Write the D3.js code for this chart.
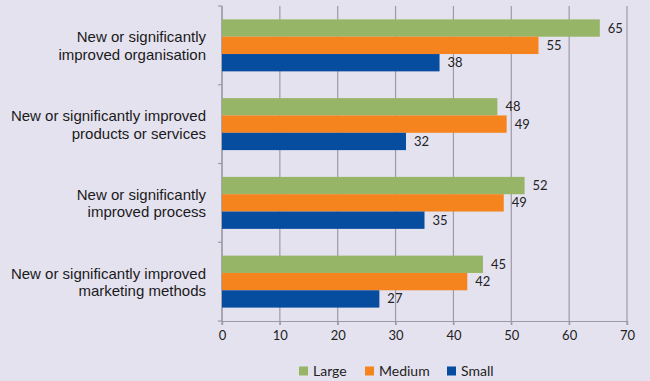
<!DOCTYPE html>
<html>
<head>
<meta charset="utf-8">
<script src="https://cdn.jsdelivr.net/npm/d3@7"></script>
<style>
  body { margin: 0; background: #e5e2f0; }
</style>
</head>
<body>
<div id="myChart"></div>
<script>
// data
const categories = [
  ["New or significantly", "improved organisation"],
  ["New or significantly improved", "products or services"],
  ["New or significantly", "improved process"],
  ["New or significantly improved", "marketing methods"]
];
const seriesNames = ["Large", "Medium", "Small"];
const large  = [65.3, 47.6, 52.3, 45.1];
const medium = [54.7, 49.2, 48.7, 42.4];
const small  = [37.6, 31.8, 35.0, 27.2];
const xTicks = [0, 10, 20, 30, 40, 50, 60, 70];

const seriesValues = [large, medium, small];

// dimensions
const margin = {top: 6, right: 23, bottom: 60, left: 222},
    width = 650 - margin.left - margin.right,
    height = 381 - margin.top - margin.bottom;

const svg = d3.select("#myChart")
  .append("svg")
    .attr("width", 650)
    .attr("height", 381)
  .append("g")
    .attr("transform", `translate(${margin.left}, ${margin.top})`);

const color = d3.scaleOrdinal()
  .domain(seriesNames)
  .range(["#97b566", "#f5841f", "#064da0"]);

const x = d3.scaleLinear()
  .domain([0, 70])
  .range([0, width]);

const y = d3.scaleBand()
  .domain(d3.range(categories.length))
  .range([0, height])
  .paddingInner(0.34)
  .paddingOuter(0.17);

const ySub = d3.scaleBand()
  .domain(seriesNames)
  .range([0, y.bandwidth()]);

// gridlines
svg.append("g")
  .selectAll("line")
  .data(xTicks)
  .join("line")
    .attr("x1", d => x(d))
    .attr("x2", d => x(d))
    .attr("y1", 0)
    .attr("y2", height + 4)
    .attr("stroke", "#9d9aa6")
    .attr("stroke-width", 1.2);

// X axis
const xAxis = svg.append("g")
  .attr("transform", `translate(0, ${height})`)
  .call(d3.axisBottom(x).tickValues(xTicks).tickSize(4).tickPadding(6));
xAxis.select(".domain").attr("stroke", "#9d9aa6").attr("stroke-width", 1.2);
xAxis.selectAll(".tick line").attr("stroke", "#9d9aa6").attr("stroke-width", 1.2);
xAxis.selectAll("text")
  .style("font-family", "Lato, 'Open Sans', sans-serif")
  .style("font-size", "13px")
  .attr("fill", "#222");

// Y axis (ticks between categories)
const yEdges = d3.range(categories.length + 1).map(i => i * height / categories.length);
svg.append("line")
  .attr("x1", 0).attr("x2", 0)
  .attr("y1", 0).attr("y2", height)
  .attr("stroke", "#9d9aa6")
  .attr("stroke-width", 1.2);
svg.append("g")
  .selectAll("line")
  .data(yEdges)
  .join("line")
    .attr("x1", -4).attr("x2", 0)
    .attr("y1", d => d).attr("y2", d => d)
    .attr("stroke", "#9d9aa6")
    .attr("stroke-width", 1.2);

// category labels
const catLabels = svg.append("g")
  .selectAll("text")
  .data(categories)
  .join("text")
    .attr("x", -16)
    .attr("y", (d, i) => y(i) + y.bandwidth() / 2)
    .attr("text-anchor", "end")
    .style("font-family", "'Liberation Sans', Arial, sans-serif")
    .style("font-size", "15px")
    .attr("fill", "#1a1a1a");
catLabels.selectAll("tspan")
  .data(d => d)
  .join("tspan")
    .attr("x", -16)
    .attr("dy", (d, i) => i === 0 ? "-0.2em" : "1.17em")
    .text(d => d);

// bars
const groups = svg.append("g")
  .selectAll("g")
  .data(categories.map((c, i) => i))
  .join("g")
    .attr("transform", i => `translate(0, ${y(i)})`);

groups.selectAll("rect")
  .data(i => seriesNames.map((s, k) => ({key: s, value: seriesValues[k][i]})))
  .join("rect")
    .attr("x", x(0))
    .attr("y", d => ySub(d.key))
    .attr("width", d => x(d.value) - x(0))
    .attr("height", ySub.bandwidth())
    .attr("fill", d => color(d.key));

groups.selectAll("text")
  .data(i => seriesNames.map((s, k) => ({key: s, value: seriesValues[k][i]})))
  .join("text")
    .attr("x", d => x(d.value) + 8)
    .attr("y", d => ySub(d.key) + ySub.bandwidth() / 2)
    .attr("dy", "0.35em")
    .style("font-family", "Lato, 'Open Sans', sans-serif")
    .style("font-size", "13px")
    .attr("fill", "#222")
    .text(d => d3.format(".0f")(d.value));

// legend
const legendX = [299 - margin.left, 365 - margin.left, 447 - margin.left];
const legendY = 371 - margin.top;
const legend = svg.append("g")
  .selectAll("g")
  .data(seriesNames)
  .join("g")
    .attr("transform", (d, i) => `translate(${legendX[i]}, ${legendY})`);
legend.append("rect")
  .attr("x", 0)
  .attr("y", -4.5)
  .attr("width", 9)
  .attr("height", 9)
  .attr("fill", d => color(d));
legend.append("text")
  .attr("x", 14)
  .attr("y", 0)
  .attr("dy", "0.35em")
  .style("font-family", "Lato, 'Open Sans', sans-serif")
  .style("font-size", "14px")
  .attr("fill", "#222")
  .text(d => d);
</script>
</body>
</html>
